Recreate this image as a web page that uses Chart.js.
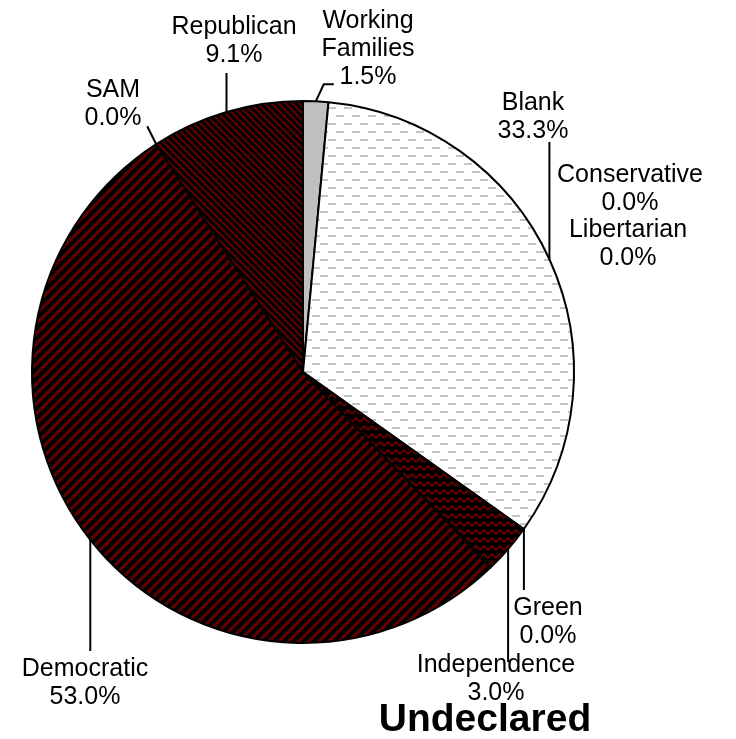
<!DOCTYPE html>
<html>
<head>
<meta charset="utf-8">
<title>Undeclared</title>
<script src="https://cdn.jsdelivr.net/npm/chart.js"></script>
<style>
  html, body { margin: 0; padding: 0; background: #fff; }
  #wrap { width: 736px; height: 739px; }
</style>
</head>
<body>
<div id="wrap"><canvas id="pie" width="736" height="739"></canvas></div>
<script>
// --------- Data ---------
const categories = ["Working Families", "Blank", "Conservative", "Libertarian", "Green",
                    "Independence", "Democratic", "SAM", "Republican"];
const shares = [1.5, 33.3, 0.0, 0.0, 0.0, 3.0, 53.0, 0.0, 9.1];
const chartTitle = "Undeclared";

// --------- Fill patterns ---------
function makeTile(w, h, draw) {
  const c = document.createElement("canvas");
  c.width = w; c.height = h;
  const g = c.getContext("2d");
  draw(g, w, h);
  return g.createPattern(c, "repeat");
}

const ctx = document.getElementById("pie").getContext("2d");
const RED = "#5e0000";

function tilePattern(w, h, draw) {
  const c = document.createElement("canvas");
  c.width = w; c.height = h;
  draw(c.getContext("2d"), w, h);
  return ctx.createPattern(c, "repeat");
}

// light dashes on white
const dashFill = tilePattern(16, 16, (g) => {
  g.fillStyle = "#fff"; g.fillRect(0, 0, 16, 16);
  g.fillStyle = "#c4c4c4";
  g.fillRect(0, 3, 8, 2);
  g.fillRect(8, 11, 8, 2);
});

// wide "/" stripes
const wideDiag = tilePattern(10, 10, (g) => {
  g.fillStyle = "#000"; g.fillRect(0, 0, 10, 10);
  g.strokeStyle = RED; g.lineWidth = 3.2;
  g.beginPath();
  g.moveTo(-5, 5); g.lineTo(5, -5);
  g.moveTo(0, 10); g.lineTo(10, 0);
  g.moveTo(5, 15); g.lineTo(15, 5);
  g.stroke();
});

// fine "\" stripes
const fineDiag = tilePattern(7, 7, (g) => {
  g.fillStyle = "#000"; g.fillRect(0, 0, 7, 7);
  g.strokeStyle = RED; g.lineWidth = 2.2;
  g.beginPath();
  g.moveTo(-3.5, 3.5); g.lineTo(3.5, 10.5);
  g.moveTo(0, 0); g.lineTo(7, 7);
  g.moveTo(3.5, -3.5); g.lineTo(10.5, 3.5);
  g.stroke();
});

// zigzag
const zigzag = tilePattern(8, 8, (g) => {
  g.fillStyle = "#000"; g.fillRect(0, 0, 8, 8);
  g.strokeStyle = RED; g.lineWidth = 2.2;
  g.beginPath();
  g.moveTo(0, 6); g.lineTo(4, 2); g.lineTo(8, 6);
  g.stroke();
});

const fills = ["#c0c0c0", dashFill, "#fff", "#fff", "#fff", zigzag, wideDiag, "#000", fineDiag];

// --------- Label layout ---------
// x = text centre, y = first baseline, lead = leader end (vertical unless path given)
const labelLayout = [
  { x: 368, y: 28, path: [[8, -17], [18, -17]] },   // Working Families
  { x: 533, y: 110, leadY: 142 },                  // Blank
  { x: 630, y: 182 },                              // Conservative
  { x: 628, y: 237 },                              // Libertarian
  { x: 548, y: 615, leadY: 590 },                  // Green
  { x: 496, y: 672, leadY: 662 },                  // Independence
  { x: 85, y: 676, leadY: 651 },                   // Democratic
  { x: 113, y: 97, path: [[-9, -18]] },            // SAM
  { x: 234, y: 34, leadY: 73 }                     // Republican
];

const FONT = "'Liberation Sans', Arial, sans-serif";

const pieLabels = {
  id: "pieLabels",
  afterDraw(chart) {
    const c = chart.ctx;
    const arcs = chart.getDatasetMeta(0).data;
    c.save();
    c.strokeStyle = "#000";
    c.lineWidth = 2;
    c.fillStyle = "#000";
    c.textAlign = "center";
    c.textBaseline = "alphabetic";

    categories.forEach((name, i) => {
      const lay = labelLayout[i];
      const a = arcs[i].getProps(["x", "y", "startAngle", "endAngle", "outerRadius"], true);
      const mid = (a.startAngle + a.endAngle) / 2;
      const ax = a.x + Math.cos(mid) * a.outerRadius;
      const ay = a.y + Math.sin(mid) * a.outerRadius;

      if (lay.leadY !== undefined) {
        c.beginPath();
        c.moveTo(ax, ay);
        c.lineTo(ax, lay.leadY);
        c.stroke();
      } else if (lay.path) {
        c.beginPath();
        c.moveTo(ax, ay);
        lay.path.forEach(p => c.lineTo(ax + p[0], ay + p[1]));
        c.stroke();
      }

      const lines = name.split(" ").concat([shares[i].toFixed(1) + "%"]);
      c.font = "25px " + FONT;
      lines.forEach((t, k) => c.fillText(t, lay.x, lay.y + k * 27.8));
    });

    c.font = "bold 39px " + FONT;
    c.fillText(chartTitle, 485, 731);
    c.restore();
  }
};

// --------- Chart ---------
new Chart(ctx, {
  type: "pie",
  data: {
    labels: categories,
    datasets: [{
      data: shares,
      backgroundColor: fills,
      borderColor: "#000",
      borderWidth: 2
    }]
  },
  options: {
    responsive: false,
    animation: false,
    devicePixelRatio: 1,
    events: [],
    layout: { padding: { left: 31, top: 100, right: 161, bottom: 95 } },
    plugins: {
      legend: { display: false },
      tooltip: { enabled: false },
      title: { display: false }
    }
  },
  plugins: [pieLabels]
});
</script>
</body>
</html>
